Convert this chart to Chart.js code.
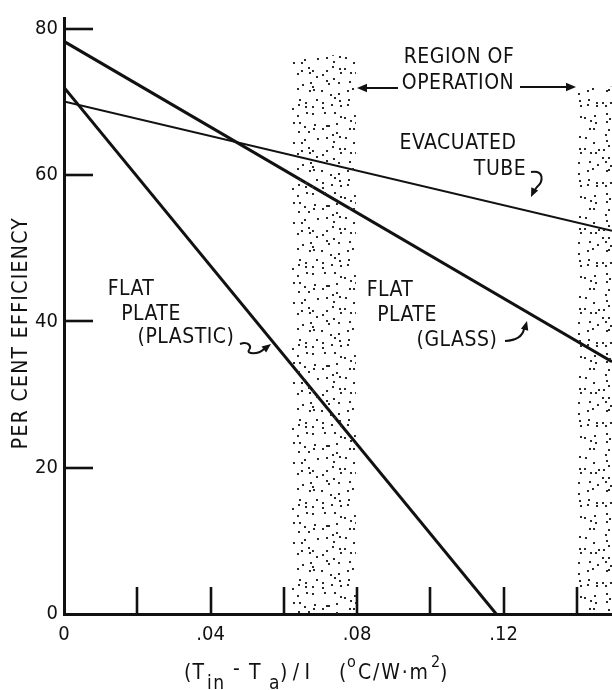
<!DOCTYPE html>
<html lang="en">
<head>
<meta charset="UTF-8">
<title>Collector efficiency</title>
<script src="https://cdn.jsdelivr.net/npm/chart.js"></script>
<style>
    html, body { margin: 0; padding: 0; background: #fff; }
    #wrap { width: 612px; height: 690px; }
</style>
</head>
<body>
<div id="wrap"><canvas id="chart" width="612" height="690"></canvas></div>
<script>
// ticks
const xTicks = [0, 0.02, 0.04, 0.06, 0.08, 0.10, 0.12, 0.14];
const xTickLabels = ['0', '', '.04', '', '.08', '', '.12', ''];
const yTicks = [0, 20, 40, 60, 80];
const yTickLabels = ['0', '20', '40', '60', '80'];

// collector lines (x = (Tin - Ta)/I, y = per cent efficiency)
const glassX = [0, 0.1496];
const glassY = [78.3, 34.5];
const tubeX = [0, 0.1496];
const tubeY = [70.1, 52.4];
const plasticX = [0, 0.118];
const plasticY = [72.0, 0];

// shaded "region of operation" bands
const band1X = [0.0622, 0.0797];
const band1Y = [76.4, 76.4];
const band2X = [0.1403, 0.1496];
const band2Y = [72.1, 72.1];

const FONT = '"Liberation Sans Narrow", "DejaVu Sans Condensed", "Arial Narrow", sans-serif';
const INK = '#111';

function pts(xs, ys) {
    return xs.map((x, i) => ({ x: x, y: ys[i] }));
}

// dotted fill for the bands: jittered grid, fixed seed
function stipple(ctx) {
    const N = 80, cell = 8;
    const tile = document.createElement('canvas');
    tile.width = N; tile.height = N;
    const g = tile.getContext('2d');
    g.fillStyle = '#2a2a2a';
    let a = 20240611;
    const rnd = () => {
        a = (a + 0x6D2B79F5) | 0;
        let t = Math.imul(a ^ (a >>> 15), 1 | a);
        t = (t + Math.imul(t ^ (t >>> 7), 61 | t)) ^ t;
        return ((t ^ (t >>> 14)) >>> 0) / 4294967296;
    };
    for (let cy = 0; cy < N; cy += cell) {
        for (let cx = 0; cx < N; cx += cell) {
            const x = cx + Math.floor(rnd() * 7), y = cy + Math.floor(rnd() * 7);
            g.fillRect(x, y, 2, 2);
        }
    }
    return ctx.createPattern(tile, 'repeat');
}

function arrowHead(ctx, x, y, ang, size) {
    ctx.save();
    ctx.translate(x, y);
    ctx.rotate(ang);
    ctx.beginPath();
    ctx.moveTo(0, 0);
    ctx.lineTo(-size, -size * 0.42);
    ctx.lineTo(-size, size * 0.42);
    ctx.closePath();
    ctx.fill();
    ctx.restore();
}

// draw a text piece stretched to span x0..x1 through letter spacing
function spanText(ctx, s, x0, x1, yb) {
    ctx.letterSpacing = '0px';
    const w = ctx.measureText(s).width;
    const ls = s.length > 1 ? Math.max(0, (x1 - x0 - w) / (s.length - 1)) : 0;
    ctx.letterSpacing = ls + 'px';
    ctx.fillText(s, x0, yb);
}

const decor = {
    id: 'decor',
    afterDatasetsDraw(chart) {
        const { ctx, chartArea: a, scales: { x, y } } = chart;
        ctx.save();
        ctx.strokeStyle = INK;
        ctx.fillStyle = INK;

        // inward tick marks
        ctx.lineWidth = 2.6;
        yTicks.filter(v => v > 0).forEach(v => {
            const p = Math.round(y.getPixelForValue(v));
            ctx.beginPath(); ctx.moveTo(a.left, p); ctx.lineTo(a.left + 29, p); ctx.stroke();
        });
        xTicks.filter(v => v > 0).forEach(v => {
            const p = Math.round(x.getPixelForValue(v));
            ctx.beginPath(); ctx.moveTo(p, a.bottom); ctx.lineTo(p, a.bottom - 27); ctx.stroke();
        });

        // annotation text
        ctx.font = '21px ' + FONT;
        ctx.letterSpacing = '0.5px';
        ctx.textAlign = 'center';
        ctx.textBaseline = 'middle';
        const txt = [
            ['REGION OF', 459, 58], ['OPERATION', 458, 84],
            ['EVACUATED', 458, 144], ['TUBE', 500, 170],
            ['FLAT', 390, 291], ['PLATE', 407, 316], ['(GLASS)', 457, 341],
            ['FLAT', 131, 290], ['PLATE', 151, 315], ['(PLASTIC)', 186, 338]
        ];
        txt.forEach(t => ctx.fillText(t[0], t[1], t[2]));

        // region of operation arrows
        ctx.lineWidth = 1.8;
        ctx.beginPath(); ctx.moveTo(398, 88); ctx.lineTo(364, 88); ctx.stroke();
        arrowHead(ctx, 357, 88, Math.PI, 10);
        ctx.beginPath(); ctx.moveTo(520, 87); ctx.lineTo(569, 87); ctx.stroke();
        arrowHead(ctx, 576, 87, 0, 10);

        // curly pointers
        ctx.lineWidth = 2;
        ctx.beginPath();
        ctx.moveTo(531, 172);
        ctx.bezierCurveTo(545, 170, 543, 182, 537, 187);
        ctx.lineTo(534, 191);
        ctx.stroke();
        arrowHead(ctx, 531, 197, 2.0, 9);

        ctx.beginPath();
        ctx.moveTo(505, 341);
        ctx.quadraticCurveTo(522, 340, 524, 329);
        ctx.stroke();
        arrowHead(ctx, 527, 321, -1.3, 9);

        ctx.beginPath();
        ctx.moveTo(240, 344);
        ctx.bezierCurveTo(248, 341, 252, 346, 249, 350);
        ctx.bezierCurveTo(246, 354, 258, 355, 264, 349);
        ctx.stroke();
        arrowHead(ctx, 271, 344, -0.65, 9);

        // y axis title
        ctx.save();
        ctx.translate(22, 333);
        ctx.rotate(-Math.PI / 2);
        ctx.font = '21px ' + FONT;
        ctx.letterSpacing = '1.3px';
        ctx.fillText('PER CENT EFFICIENCY', 0, 0);
        ctx.restore();

        // x axis title with sub/superscripts, each piece spanning its own range
        const parts = [
            ['(T', 184, 204, 21, 0], ['in', 207, 224, 19, 10], ['-', 233, 243, 21, -4],
            ['T', 249, 266, 21, 0], ['a', 269, 277, 19, 10], [')/I', 280, 310, 21, 0],
            ['(', 339, 345, 21, 0], ['o', 347, 355, 16, -12], ['C/W\u00B7m', 358, 428, 21, 0],
            ['2', 431, 440, 16, -12], [')', 440, 446, 21, 0]
        ];
        ctx.textAlign = 'left';
        ctx.textBaseline = 'alphabetic';
        parts.forEach(p => {
            ctx.font = p[3] + 'px ' + FONT;
            spanText(ctx, p[0], p[1], p[2], 679 + p[4]);
        });
        ctx.restore();
    }
};

const ctx = document.getElementById('chart').getContext('2d');
const dots = stipple(ctx);

const lineStyle = { pointRadius: 0, borderColor: INK, fill: false, tension: 0 };

new Chart(ctx, {
    type: 'line',
    data: {
        datasets: [
            { label: 'band1', data: pts(band1X, band1Y), pointRadius: 0, borderWidth: 0,
              borderColor: 'rgba(0,0,0,0)', backgroundColor: dots, fill: 'origin' },
            { label: 'band2', data: pts(band2X, band2Y), pointRadius: 0, borderWidth: 0,
              borderColor: 'rgba(0,0,0,0)', backgroundColor: dots, fill: 'origin' },
            Object.assign({ label: 'Flat plate (glass)', data: pts(glassX, glassY), borderWidth: 3 }, lineStyle),
            Object.assign({ label: 'Evacuated tube', data: pts(tubeX, tubeY), borderWidth: 2 }, lineStyle),
            Object.assign({ label: 'Flat plate (plastic)', data: pts(plasticX, plasticY), borderWidth: 3 }, lineStyle)
        ]
    },
    options: {
        responsive: false,
        animation: false,
        devicePixelRatio: 1,
        layout: { padding: { top: 14, right: 0, left: 0, bottom: 0 } },
        plugins: { legend: { display: false }, tooltip: { enabled: false } },
        scales: {
            x: {
                type: 'linear',
                min: 0,
                max: 0.1496,
                grid: { display: false, drawTicks: false },
                border: { display: true, width: 3, color: INK },
                afterBuildTicks: s => { s.ticks = xTicks.map(v => ({ value: v })); },
                afterFit: s => { s.height = 76; },
                ticks: {
                    autoSkip: false, maxRotation: 0, padding: 9, color: INK,
                    font: { family: FONT, size: 20 },
                    callback: v => xTickLabels[xTicks.findIndex(t => Math.abs(t - v) < 1e-6)] || ''
                }
            },
            y: {
                type: 'linear',
                min: 0,
                max: 81.5,
                grid: { display: false, drawTicks: false },
                border: { display: true, width: 3, color: INK },
                afterBuildTicks: s => { s.ticks = yTicks.map(v => ({ value: v })); },
                afterFit: s => { s.width = 64; },
                ticks: {
                    padding: 6, color: INK,
                    font: { family: FONT, size: 20 },
                    callback: v => yTickLabels[yTicks.indexOf(v)]
                }
            }
        }
    },
    plugins: [decor]
});
</script>
</body>
</html>
